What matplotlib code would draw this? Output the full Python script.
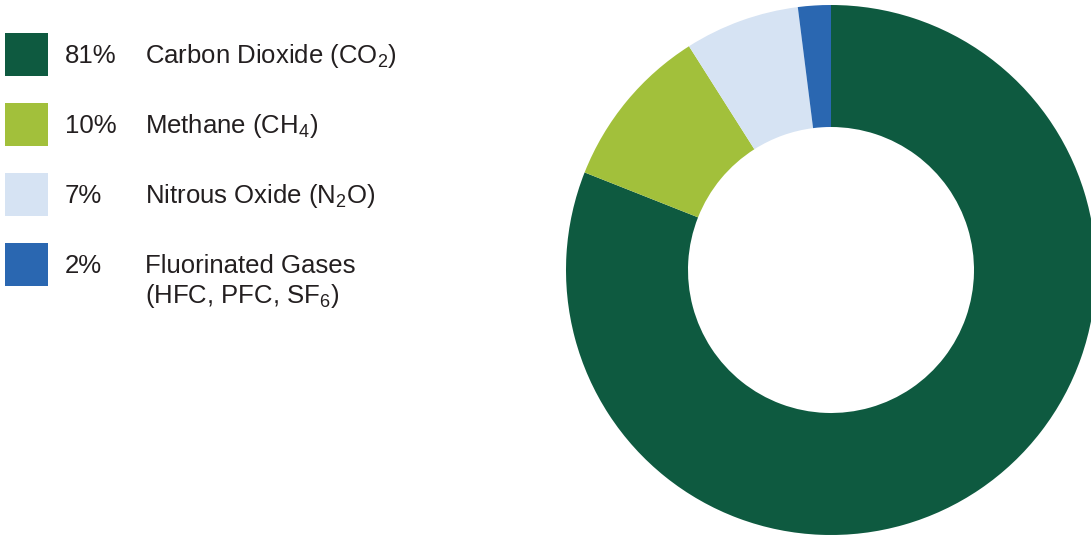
import matplotlib.pyplot as plt

plt.rcParams['font.family'] = 'Liberation Sans'
plt.rcParams['mathtext.fontset'] = 'custom'
plt.rcParams['mathtext.rm'] = 'Liberation Sans'
plt.rcParams['mathtext.it'] = 'Liberation Sans'
plt.rcParams['mathtext.bf'] = 'Liberation Sans'

gases = ["Carbon Dioxide (CO$_2$)", "Methane (CH$_4$)", "Nitrous Oxide (N$_2$O)",
         "Fluorinated Gases\n(HFC, PFC, SF$_6$)"]
shares = [81, 10, 7, 2]
colors = ["#0E5A40", "#A2C03B", "#D6E3F3", "#2A67B1"]

W, H = 1091, 536
fig = plt.figure(figsize=(W / 100, H / 100), dpi=100)
ax = fig.add_axes([0, 0, 1, 1])

# donut
ax.pie(shares, colors=colors, startangle=90, counterclock=False,
       center=(831, H - 270), radius=265,
       wedgeprops=dict(width=122, linewidth=0),
       frame=True)
ax.set_xlim(0, W)
ax.set_ylim(0, H)
ax.set_aspect('equal')
ax.axis('off')

# legend
for i, (name, pct, c) in enumerate(zip(gases, shares, colors)):
    top = 33 + 70 * i
    ax.add_patch(plt.Rectangle((5, H - top - 43), 43, 43, color=c, lw=0))
    base = H - (63 + 70 * i)
    ax.text(65, base, f"{pct}%", fontsize=18.5, va='baseline', ha='left', color='#231F20')
    for j, line in enumerate(name.split("\n")):
        ax.text(145, base - 30 * j, line, fontsize=18.5, va='baseline', ha='left',
                color='#231F20')

fig.savefig("out.png", dpi=100)
